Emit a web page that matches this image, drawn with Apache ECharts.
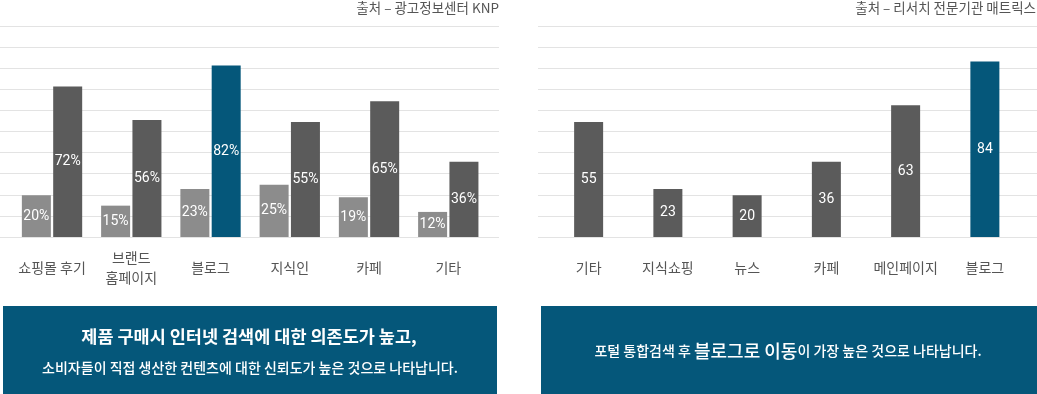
<!DOCTYPE html>
<html>
<head>
<meta charset="utf-8">
<script src="https://cdn.jsdelivr.net/npm/echarts@6/dist/echarts.min.js"></script>
<style>
html,body{margin:0;padding:0;background:#fff;}
#chart{width:1037px;height:394px;}
</style>
</head>
<body>
<div id="chart"></div>
<script>
// ---- data ----
var leftCategories = ['쇼핑몰 후기', '브랜드\n홈페이지', '블로그', '지식인', '카페', '기타'];
var leftLightValues = [20, 15, 23, 25, 19, 12];
var leftDarkValues = [72, 56, 82, 55, 65, 36];
var rightCategories = ['기타', '지식쇼핑', '뉴스', '카페', '메인페이지', '블로그'];
var rightValues = [55, 23, 20, 36, 63, 84];
var highlightCategory = '블로그';
var leftSource = '출처 – 광고정보센터 KNP';
var rightSource = '출처 – 리서치 전문기관 매트릭스';
var yTicks = [0, 100, 10]; // min, max, interval

var C_LIGHT = '#8c8c8c', C_DARK = '#5b5b5b', C_BLUE = '#05577a', C_GRID = '#e3e3e3';
var KFONT = "'Noto Sans CJK KR', 'Noto Sans', sans-serif";
var NFONT = "Roboto, 'Liberation Sans', Arial, sans-serif";

var chart = echarts.init(document.getElementById('chart'), null, {renderer: 'canvas'});

function gridAxisY(gi) {
  return {type: 'value', gridIndex: gi, min: yTicks[0], max: yTicks[1], interval: yTicks[2],
    axisLine: {show: false}, axisTick: {show: false}, axisLabel: {show: false},
    splitLine: {show: true, lineStyle: {color: C_GRID, width: 1}}};
}
function hiddenY(gi) {
  return {type: 'value', gridIndex: gi, min: yTicks[0], max: yTicks[1], interval: yTicks[2],
    axisLine: {show: false}, axisTick: {show: false}, axisLabel: {show: false}, splitLine: {show: false}};
}
function catX(gi, cats) {
  return {type: 'category', gridIndex: gi, data: cats,
    axisLine: {show: false}, axisTick: {show: false},
    axisLabel: {interval: 0, margin: 31, verticalAlign: 'middle', lineHeight: 20,
      fontSize: 14, color: '#555', fontFamily: KFONT}};
}
function blankX(gi) {
  return {type: 'value', gridIndex: gi, show: false, min: 0, max: 1};
}
var labelStyle = {show: true, position: 'inside', color: '#fff', fontSize: 14, fontFamily: NFONT};

var option = {
  animation: false,
  grid: [
    {left: 0, top: 26, width: 499, height: 211},      // left gridlines
    {left: 12.4, top: 28, width: 475.5, height: 209}, // left bars
    {left: 538, top: 26, width: 499, height: 211},    // right gridlines
    {left: 549, top: 28, width: 475.5, height: 209}   // right bars
  ],
  xAxis: [blankX(0), catX(1, leftCategories), blankX(2), catX(3, rightCategories)],
  yAxis: [gridAxisY(0), hiddenY(1), gridAxisY(2), hiddenY(3)],
  series: [
    {type: 'bar', xAxisIndex: 1, yAxisIndex: 1, data: leftLightValues, barWidth: 29, barGap: '8%',
      itemStyle: {color: C_LIGHT},
      label: Object.assign({formatter: '{c}%'}, labelStyle)},
    {type: 'bar', xAxisIndex: 1, yAxisIndex: 1, data: leftDarkValues, barWidth: 29, barGap: '8%',
      itemStyle: {color: function (p) { return leftCategories[p.dataIndex] === highlightCategory ? C_BLUE : C_DARK; }},
      label: Object.assign({formatter: '{c}%'}, labelStyle)},
    {type: 'bar', xAxisIndex: 3, yAxisIndex: 3, data: rightValues, barWidth: 29,
      itemStyle: {color: function (p) { return rightCategories[p.dataIndex] === highlightCategory ? C_BLUE : C_DARK; }},
      label: Object.assign({formatter: '{c}'}, labelStyle)}
  ],
  graphic: [
    {type: 'text', x: 499, y: 8, style: {text: leftSource, align: 'right', verticalAlign: 'middle',
      font: '13.5px ' + KFONT, fill: '#555'}},
    {type: 'text', x: 1036, y: 8, style: {text: rightSource, align: 'right', verticalAlign: 'middle',
      font: '13.5px ' + KFONT, fill: '#555'}},
    {type: 'rect', shape: {x: 3, y: 306, width: 494, height: 100}, style: {fill: C_BLUE}},
    {type: 'rect', shape: {x: 541, y: 306, width: 500, height: 100}, style: {fill: C_BLUE}},
    {type: 'text', x: 249, y: 336, style: {text: '제품 구매시 인터넷 검색에 대한 의존도가 높고,', align: 'center', verticalAlign: 'middle',
      font: 'bold 17.5px ' + KFONT, fill: '#fff'}},
    {type: 'text', x: 250, y: 368, style: {text: '소비자들이 직접 생산한 컨텐츠에 대한 신뢰도가 높은 것으로 나타납니다.', align: 'center', verticalAlign: 'middle',
      font: '500 14px ' + KFONT, fill: '#fff'}},
    {type: 'text', x: 788, y: 351, style: {
      text: '{s|포털 통합검색 후 }{b|블로그로 이동}{s|이 가장 높은 것으로 나타납니다.}',
      align: 'center', verticalAlign: 'middle', fill: '#fff',
      rich: {
        s: {fontSize: 14, fontWeight: 500, fontFamily: KFONT, fill: '#fff', color: '#fff'},
        b: {fontSize: 18, fontWeight: 500, fontFamily: KFONT, fill: '#fff', color: '#fff'}
      }}}
  ]
};
chart.setOption(option);
</script>
</body>
</html>
